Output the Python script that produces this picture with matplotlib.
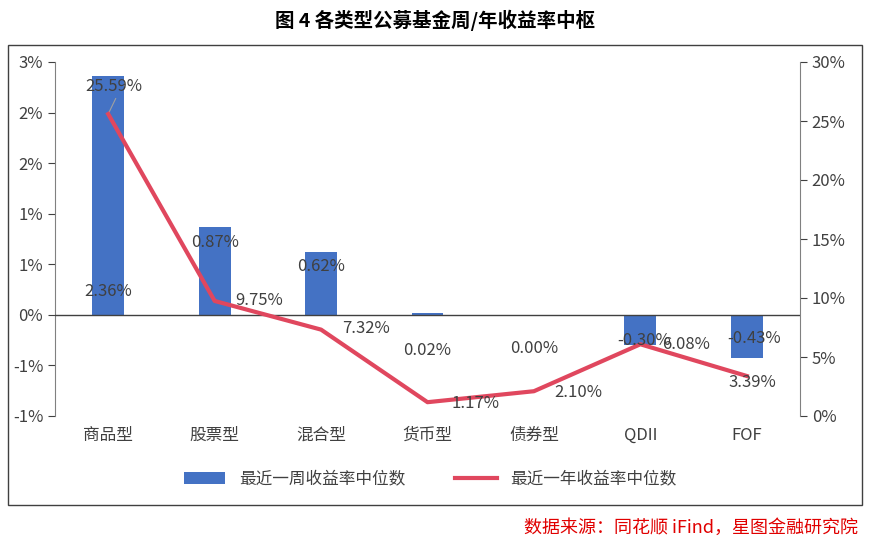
import matplotlib
matplotlib.use("Agg")
import matplotlib.pyplot as plt
from matplotlib.ticker import FuncFormatter
from matplotlib.patches import Rectangle
import math

plt.rcParams['font.family'] = ['Noto Sans CJK SC', 'DejaVu Sans']

categories = ['商品型', '股票型', '混合型', '货币型', '债券型', 'QDII', 'FOF']
week_median = [2.36, 0.87, 0.62, 0.02, 0.00, -0.30, -0.43]
year_median = [25.59, 9.75, 7.32, 1.17, 2.10, 6.08, 3.39]

# label positions (offset x in category units, y in axis units)
bar_lab = [(0, 0.23), (0, 0.72), (0, 0.48), (0, -0.35), (0, -0.33), (0.04, -0.25), (0.07, -0.23)]
line_lab = [(0.05, 27.9), (0.42, 9.8), (0.42, 7.4), (0.45, 1.1), (0.42, 2.0), (0.43, 6.1), (0.05, 2.8)]

fig = plt.figure(figsize=(8.7, 5.44), dpi=100)
fig.patches.append(Rectangle((8/870, 1-505/544), 854/870, 460/544, transform=fig.transFigure,
                             fill=False, edgecolor='#404040', linewidth=1))
ax = fig.add_axes([55/870, 1-416/544, 745/870, 354/544])
ax2 = ax.twinx()
x = list(range(len(categories)))
ax.bar(x, week_median, width=0.3, color='#4472C4', label='最近一周收益率中位数', zorder=2)
ax2.plot(x, year_median, color='#E0475E', linewidth=3, label='最近一年收益率中位数', zorder=3)
ax.set_xlim(-0.5, 6.5)
ax.set_ylim(-1.0, 2.5)
ax2.set_ylim(0, 30)
ax.set_yticks([2.5, 2.0, 1.5, 1.0, 0.5, 0, -0.5, -1.0])
ax.yaxis.set_major_formatter(FuncFormatter(lambda v, p: f"{int(math.copysign(math.floor(abs(v)+0.5), v))}%"))
ax2.set_yticks(range(0, 31, 5))
ax2.yaxis.set_major_formatter(FuncFormatter(lambda v, p: f"{int(v)}%"))
ax.set_xticks(x)
ax.set_xticklabels(categories)
ax.tick_params(axis='x', length=0, labelsize=12, colors='#404040', pad=8)
for a in (ax, ax2):
    a.tick_params(axis='y', labelsize=12, colors='#404040', direction='out', length=5)
    for s in a.spines.values():
        s.set_visible(False)
ax.spines['left'].set_visible(True); ax.spines['left'].set_color('#808080')
ax2.spines['right'].set_visible(True); ax2.spines['right'].set_color('#808080')
ax.axhline(0, color='#404040', linewidth=1, zorder=4)
ax.set_zorder(ax2.get_zorder() - 1) if False else None

for i, (dx, dy) in enumerate(bar_lab):
    ax2.text(i + dx, (dy + 1.0) / 3.5 * 30, f"{week_median[i]:.2f}%", ha='center', va='center', fontsize=12, color='#404040', zorder=5)
for i, (dx, dy) in enumerate(line_lab):
    ax2.text(i + dx, dy, f"{year_median[i]:.2f}%", ha='center', va='center', fontsize=12, color='#404040', zorder=5)
ax2.plot([0.0, 0.07], [year_median[0], 26.9], color='#A0A0A0', linewidth=0.8)

h1, l1 = ax.get_legend_handles_labels()
h2, l2 = ax2.get_legend_handles_labels()
fig.legend(h1 + h2, l1 + l2, loc='center', bbox_to_anchor=(430/870, 1-479/544), ncol=2,
           frameon=False, fontsize=12, labelcolor='#404040', handlelength=2.5, columnspacing=3)
fig.text(435/870, 1-20/544, '图 4 各类型公募基金周/年收益率中枢', ha='center', va='center', fontsize=14, fontweight='bold')
fig.text(858/870, 1-528/544, '数据来源：同花顺 iFind，星图金融研究院', ha='right', va='center', fontsize=13,
         color='#E00000', style='italic')
fig.savefig('out.png', dpi=100)
